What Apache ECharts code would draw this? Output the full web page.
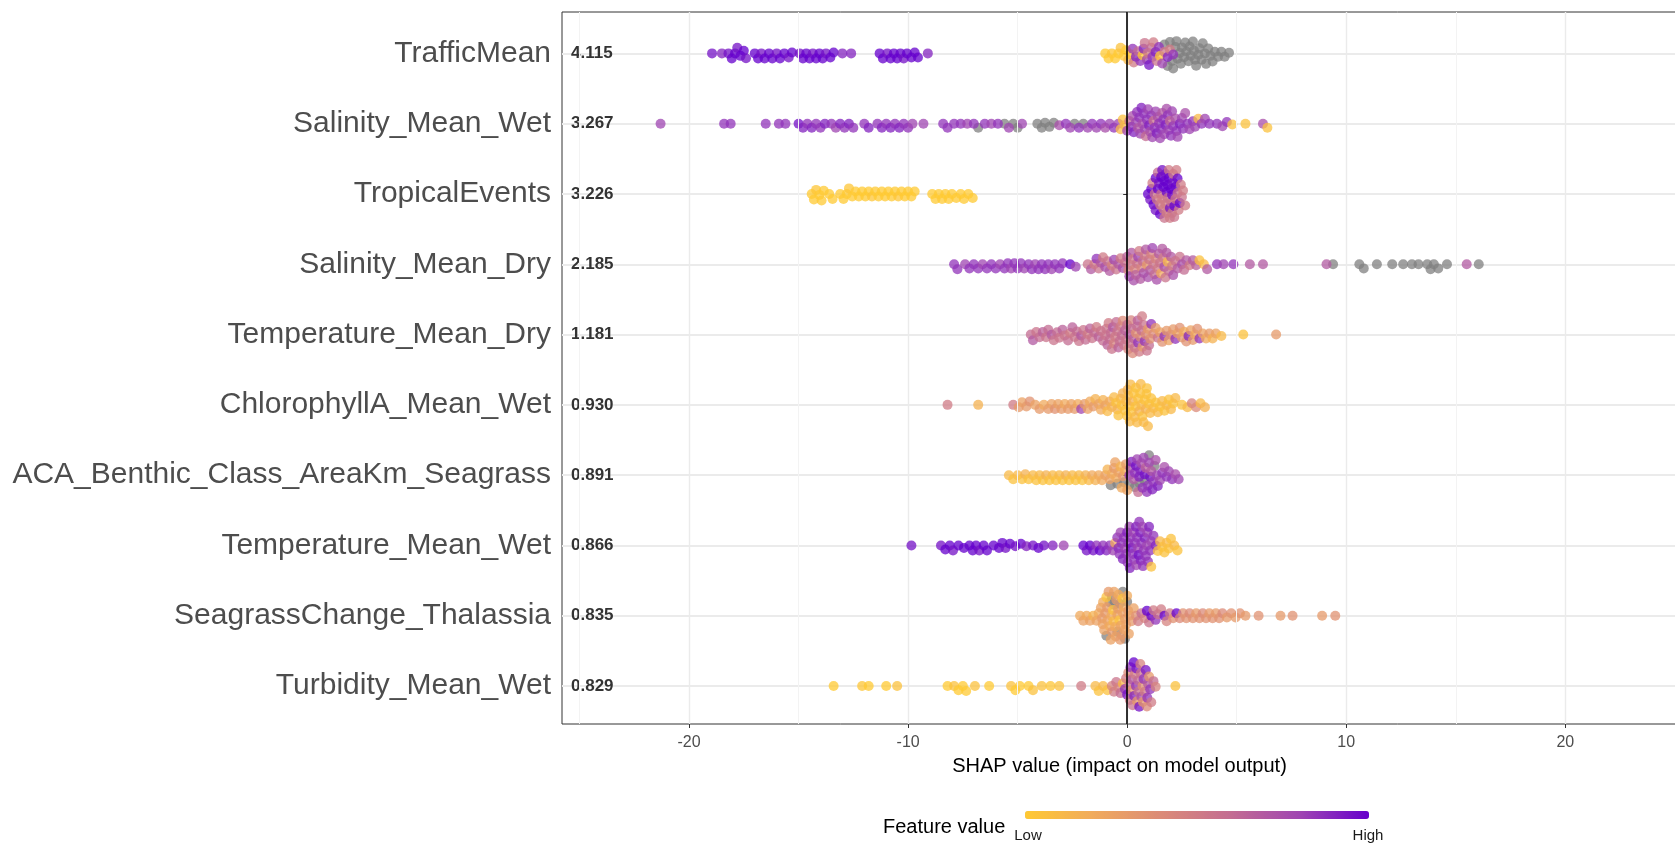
<!DOCTYPE html>
<html>
<head>
<meta charset="utf-8">
<title>SHAP summary</title>
<script src="https://cdn.jsdelivr.net/npm/echarts@6/dist/echarts.min.js"></script>
<style>
  html, body { margin: 0; padding: 0; background: #fff; }
  #chart { width: 1675px; height: 845px; }
</style>
</head>
<body>
<div id="chart"></div>
<script>
// features, top to bottom, with their mean |SHAP|
const features = ['TrafficMean', 'Salinity_Mean_Wet', 'TropicalEvents', 'Salinity_Mean_Dry', 'Temperature_Mean_Dry',
  'ChlorophyllA_Mean_Wet', 'ACA_Benthic_Class_AreaKm_Seagrass', 'Temperature_Mean_Wet', 'SeagrassChange_Thalassia', 'Turbidity_Mean_Wet']
const importance = ['4.115', '3.267', '3.226', '2.185', '1.181', '0.930', '0.891', '0.866', '0.835', '0.829']
const xTicks = [-20, -10, 0, 10, 20]
const xMinor = [-25, -15, -5, 5, 15, 25]

// [shap value, scaled feature value 0..1]; the *NA arrays hold shap values of points with missing feature value
const trafficMean = [[-18.95,0.95],[-18.5,0.9],[-18.2,0.95],[-18.05,1],[-17.9,1],[-17.8,0.95],[-17.65,1],[-17.5,1],[-17.4,0.95],[-17.0,1],[-16.85,1],[-16.7,0.95],[-16.55,1],[-16.35,1],[-16.2,1],[-16.0,0.95],[-15.85,1],[-15.65,1],[-15.45,0.95],[-15.3,1],[-14.95,0.95],[-14.8,1],[-14.65,1],[-14.5,1],[-14.35,0.95],[-14.2,1],[-14.05,1],[-13.9,1],[-13.75,0.95],[-13.55,1],[-13.4,1],[-13.0,0.9],[-12.6,0.9],[-11.3,1],[-11.15,1],[-10.95,0.95],[-10.8,1],[-10.65,1],[-10.5,1],[-10.35,1],[-10.2,0.95],[-10.05,1],[-9.85,1],[-9.7,1],[-9.55,1],[-9.1,0.9],
  [-1.0,0],[-0.85,0],[-0.7,0.02],[-0.55,0],[-0.4,0],[-0.3,0.05],[-0.15,0],[-0.05,0],[0.05,0.1],[0.15,0.02],[0.25,0.85],[0.3,0.5],[0.4,0.9],[0.5,0.6],[0.6,0.85],[0.7,0],[0.75,0.9],[0.8,0.55],[0.9,0.8],[0.95,0.5],[1.0,0.95],[1.1,0.6],[1.15,0.85],[1.2,0.5],[1.3,0.9],[1.35,0.55],[1.45,0.85],[1.5,0],[1.6,0.8],[1.7,0.5],[1.85,0.9],[1.95,0.5],[2.1,0.85]]
const trafficMeanNA = [1.7,1.85,1.95,2.05,2.1,2.2,2.25,2.3,2.4,2.45,2.5,2.6,2.65,2.7,2.8,2.85,2.9,3.0,3.05,3.1,3.15,3.25,3.3,3.4,3.45,3.55,3.6,3.7,3.8,3.9,4.0,4.15,4.3,4.45,4.65]

const salinityMeanWet = [[-21.3,0.8],[-18.4,0.85],[-18.1,0.85],[-16.5,0.85],[-15.9,0.85],[-15.6,0.85],[-15.0,0.95],[-14.8,0.9],[-14.6,0.85],[-14.4,0.9],[-14.2,0.85],[-14.0,0.85],[-13.8,0.9],[-13.5,0.85],[-13.3,0.8],[-13.1,0.9],[-12.9,0.85],[-12.7,0.9],[-12.5,0.85],[-12.0,0.85],[-11.8,0.9],[-11.4,0.85],[-11.2,0.9],[-11.0,0.85],[-10.8,0.9],[-10.6,0.85],[-10.4,0.9],[-10.2,0.85],[-10.0,0.85],[-9.8,0.8],[-9.3,0.8],[-8.4,0.85],[-8.2,0.85],[-7.9,0.85],[-7.6,0.85],[-7.3,0.8],[-7.0,0.85],[-6.5,0.85],[-6.2,0.8],[-5.9,0.85],[-5.4,0.8],[-4.8,0.8],[-3.1,0.75],[-2.8,0.85],[-2.6,0.8],[-2.2,0.85],[-1.8,0.8],[-1.6,0.85],[-1.4,0.8],[-1.2,0.85],[-1.0,0.75],[-0.8,0.8],[-0.6,0.85],[-0.4,0.8],[-0.3,0.1],[-0.2,0.05],[-0.1,0.1],
  [0.0,0.8],[0.1,0.6],[0.2,0.85],[0.25,0.75],[0.3,0.9],[0.4,0.8],[0.45,0.85],[0.5,0.7],[0.55,0.85],[0.6,0.8],[0.65,0.9],[0.7,0.75],[0.75,0.85],[0.8,0.8],[0.85,0.6],[0.9,0.85],[0.95,0.8],[1.0,0.9],[1.05,0.75],[1.1,0.85],[1.15,0.8],[1.2,0.55],[1.25,0.85],[1.3,0.8],[1.35,0.9],[1.4,0.75],[1.45,0.85],[1.5,0.8],[1.55,0.85],[1.6,0.7],[1.65,0.85],[1.7,0.8],[1.75,0.9],[1.8,0.75],[1.85,0.85],[1.9,0.8],[1.95,0.6],[2.0,0.85],[2.05,0.8],[2.1,0.85],[2.2,0.75],[2.25,0.85],[2.3,0.8],[2.4,0.9],[2.5,0.8],[2.55,0.85],[2.65,0.75],[2.75,0.85],[2.85,0.8],[3.0,0.85],[3.1,0.8],[3.25,0.1],[3.4,0.85],[3.55,0.8],[3.75,0.85],
  [4.1,0.85],[4.35,0.8],[4.55,0.85],[4.8,0.05],[5.4,0.05],[6.2,0.75],[6.4,0.05]]
const salinityMeanWetNA = [-6.8,-5.6,-5.2,-5.0,-4.1,-3.9,-3.75,-3.55,-3.35,-2.4,-2.0]

const tropicalEvents = [[-14.4,0],[-14.3,0],[-14.2,0.02],[-14.05,0],[-13.95,0],[-13.85,0],[-13.6,0],[-13.45,0],[-13.1,0],[-12.95,0],[-12.8,0],[-12.7,0.02],[-12.55,0],[-12.4,0],[-12.25,0],[-12.1,0],[-11.95,0],[-11.8,0],[-11.65,0.02],[-11.5,0],[-11.35,0],[-11.2,0],[-11.05,0],[-10.9,0],[-10.75,0],[-10.6,0],[-10.45,0.02],[-10.3,0],[-10.15,0],[-10.0,0],[-9.85,0],[-9.7,0],[-8.9,0],[-8.75,0],[-8.6,0],[-8.45,0],[-8.3,0],[-8.15,0],[-8.0,0],[-7.8,0],[-7.6,0],[-7.45,0],[-7.25,0],[-7.05,0],
  [0.95,1],[1.05,0.95],[1.1,1],[1.15,0.5],[1.2,1],[1.25,0.55],[1.3,1],[1.3,0.95],[1.35,0.5],[1.4,1],[1.4,0.6],[1.45,0.95],[1.5,0.5],[1.5,1],[1.55,0.55],[1.55,1],[1.6,0.5],[1.6,0.95],[1.65,1],[1.65,0.5],[1.7,0.55],[1.7,1],[1.75,0.5],[1.75,0.95],[1.8,1],[1.8,0.5],[1.85,0.55],[1.85,1],[1.9,0.5],[1.9,1],[1.95,0.95],[1.95,0.5],[2.0,1],[2.0,0.55],[2.05,0.5],[2.05,1],[2.1,0.95],[2.1,0.5],[2.15,1],[2.15,0.55],[2.2,0.5],[2.2,1],[2.25,0.5],[2.3,1],[2.3,0.55],[2.35,0.5],[2.4,1],[2.45,0.5],[2.5,0.55],[2.55,0.5],[2.65,0.5]]
const tropicalEventsNA = []

const salinityMeanDry = [[-7.9,0.85],[-7.75,0.85],[-7.4,0.8],[-7.2,0.85],[-7.0,0.85],[-6.8,0.85],[-6.6,0.8],[-6.4,0.85],[-6.2,0.85],[-6.0,0.85],[-5.8,0.8],[-5.6,0.85],[-5.45,0.85],[-5.3,0.8],[-5.15,0.85],[-5.0,0.85],[-4.85,0.85],[-4.7,0.8],[-4.5,0.85],[-4.35,0.85],[-4.2,0.8],[-4.05,0.85],[-3.9,0.85],[-3.75,0.85],[-3.6,0.85],[-3.45,0.8],[-3.3,0.85],[-3.1,0.85],[-2.95,0.85],[-2.6,1],[-2.35,0.8],
  [-1.8,0.55],[-1.65,0.7],[-1.5,0.5],[-1.4,0.85],[-1.3,0.55],[-1.2,0.7],[-1.1,0.5],[-1.0,0.75],[-0.9,0.55],[-0.8,0.7],[-0.7,0.45],[-0.6,0.8],[-0.5,0.55],[-0.4,0.7],[-0.3,0.5],[-0.2,0.75],[-0.1,0.55],[0.0,0.65],[0.05,0.45],[0.1,0.8],[0.15,0.55],[0.2,0.7],[0.25,0.5],[0.3,0.75],[0.35,0.45],[0.4,0.65],[0.45,0.55],[0.5,0.8],[0.55,0.5],[0.6,0.7],[0.65,0.45],[0.7,0.6],[0.75,0.75],[0.8,0.5],[0.85,0.7],[0.9,0.3],[0.95,0.75],[1.0,0.55],[1.05,0.7],[1.1,0.45],[1.15,0.8],[1.2,0.55],[1.25,0.6],[1.3,0.45],[1.35,0.75],[1.4,0.5],[1.45,0.7],[1.5,0.55],[1.55,0.2],[1.6,0.7],[1.65,0.5],[1.7,0.75],[1.75,0.55],[1.8,0.7],[1.85,0.1],[1.9,0.6],[2.0,0.7],[2.05,0.5],[2.1,0.75],[2.2,0.55],[2.3,0.7],[2.4,0.55],[2.5,0.75],[2.6,0.6],[2.7,0.7],[2.85,0.5],[3.0,0.7],[3.15,0.65],
  [3.3,0.05],[3.5,0.1],[3.65,0.7],[4.1,0.85],[4.4,0.8],[4.85,0.85],[5.6,0.7],[6.2,0.7],[9.1,0.7],[15.5,0.7]]
const salinityMeanDryNA = [9.4,10.6,10.8,11.4,12.1,12.6,13.0,13.3,13.7,13.85,14.0,14.2,14.6,16.05]

const temperatureMeanDry = [[-4.4,0.6],[-4.3,0.7],[-4.15,0.55],[-4.0,0.6],[-3.85,0.65],[-3.7,0.55],[-3.6,0.6],[-3.45,0.7],[-3.35,0.55],[-3.2,0.6],[-3.1,0.55],[-2.95,0.65],[-2.85,0.55],[-2.7,0.6],[-2.6,0.5],[-2.5,0.65],[-2.4,0.55],[-2.3,0.6],[-2.2,0.55],[-2.1,0.7],[-2.0,0.55],[-1.9,0.6],[-1.8,0.5],[-1.7,0.65],[-1.6,0.55],[-1.5,0.6],[-1.4,0.5],[-1.3,0.65],[-1.2,0.55],[-1.1,0.6],
  [-1.0,0.55],[-0.95,0.55],[-0.9,0.65],[-0.85,0.5],[-0.8,0.6],[-0.75,0.6],[-0.7,0.55],[-0.65,0.7],[-0.6,0.45],[-0.55,0.5],[-0.5,0.6],[-0.45,0.55],[-0.4,0.65],[-0.35,0.6],[-0.3,0.5],[-0.25,0.6],[-0.2,0.4],[-0.15,0.55],[-0.1,0.65],[-0.05,0.55],[0.0,0.6],[0.05,0.45],[0.1,0.7],[0.15,0.55],[0.18,0.45],[0.2,0.6],[0.25,0.4],[0.3,0.65],[0.35,0.55],[0.4,0.35],[0.45,0.6],[0.48,0.65],[0.5,0.85],[0.55,0.5],[0.6,0.4],[0.65,0.6],[0.68,0.5],[0.7,0.3],[0.75,0.55],[0.8,0.85],[0.85,0.4],[0.9,0.55],[0.95,0.3],[1.0,0.6],[1.05,0.35],[1.1,0.85],[1.2,0.4],[1.3,0.3],[1.4,0.55],[1.5,0.25],
  [1.6,0.35],[1.7,0.85],[1.8,0.3],[1.9,0.25],[2.0,0.4],[2.1,0.3],[2.2,0.85],[2.3,0.25],[2.4,0.35],[2.5,0.3],[2.6,0.2],[2.7,0.35],[2.8,0.9],[2.9,0.25],[3.0,0.3],[3.1,0.2],[3.2,0.35],[3.3,0.85],[3.45,0.25],[3.6,0.2],[3.75,0.3],[3.9,0.15],[4.05,0.25],[4.3,0.1],[5.3,0.05],[6.8,0.3]]
const temperatureMeanDryNA = []

const chlorophyllAMeanWet = [[-8.2,0.5],[-6.8,0.15],[-5.2,0.5],[-4.95,0.3],[-4.8,0.25],[-4.6,0.3],[-4.45,0.35],[-4.2,0.25],[-4.0,0.3],[-3.8,0.2],[-3.6,0.3],[-3.45,0.25],[-3.3,0.35],[-3.15,0.25],[-3.0,0.3],[-2.85,0.2],[-2.7,0.3],[-2.55,0.25],[-2.4,0.3],[-2.25,0.2],[-2.1,0.8],[-1.95,0.3],[-1.8,0.25],[-1.7,0.2],[-1.55,0.3],[-1.45,0.15],[-1.3,0.25],[-1.2,0.2],[-1.1,0.15],[-1.0,0.25],[-0.9,0.1],[-0.8,0.2],[-0.7,0.15],
  [-0.6,0.1],[-0.5,0.05],[-0.45,0.15],[-0.4,0.05],[-0.3,0.1],[-0.25,0.05],[-0.2,0.15],[-0.1,0.05],[-0.05,0.1],[0.0,0.05],[0.02,0.15],[0.05,0.1],[0.1,0.05],[0.12,0.1],[0.15,0.1],[0.2,0.05],[0.25,0.15],[0.3,0.05],[0.35,0.1],[0.38,0.05],[0.4,0.05],[0.45,0.1],[0.5,0.05],[0.55,0.15],[0.6,0.05],[0.62,0.1],[0.65,0.1],[0.7,0.05],[0.75,0.1],[0.8,0.05],[0.85,0.15],[0.88,0.05],[0.9,0.05],[0.95,0.1],[1.0,0.05],[1.05,0.1],[1.1,0.05],[1.2,0.1],[1.3,0.05],[1.4,0.1],
  [1.5,0.05],[1.6,0.1],[1.7,0.05],[1.8,0.1],[1.9,0.05],[2.0,0.1],[2.1,0.05],[2.2,0.1],[2.5,0.05],[2.75,0.1],[2.95,0.45],[3.15,0.4],[3.35,0.1],[3.55,0.15]]
const chlorophyllAMeanWetNA = []

const acaBenthicSeagrass = [[-5.4,0.1],[-5.2,0.05],[-5.0,0.1],[-4.8,0.05],[-4.65,0.15],[-4.5,0.05],[-4.3,0.1],[-4.15,0.05],[-4.0,0.1],[-3.85,0.05],[-3.7,0.15],[-3.55,0.05],[-3.4,0.1],[-3.25,0.05],[-3.1,0.1],[-2.95,0.05],[-2.8,0.15],[-2.65,0.05],[-2.5,0.1],[-2.35,0.05],[-2.2,0.1],[-2.05,0.05],[-1.9,0.15],[-1.75,0.1],[-1.6,0.2],[-1.45,0.15],[-1.3,0.2],
  [-1.15,0.2],[-1.0,0.25],[-0.9,0.15],[-0.8,0.25],[-0.7,0.2],[-0.6,0.3],[-0.55,0.25],[-0.5,0.2],[-0.4,0.25],[-0.3,0.15],[-0.25,0.2],[-0.2,0.3],[-0.1,0.2],[-0.05,0.3],[0.0,0.25],
  [0.1,0.85],[0.15,0.75],[0.2,0.9],[0.3,0.7],[0.35,0.85],[0.4,0.95],[0.45,0.8],[0.5,0.6],[0.55,0.9],[0.6,0.9],[0.65,0.75],[0.7,0.85],[0.75,0.8],[0.8,0.95],[0.85,0.65],[0.9,0.85],[0.95,0.85],[1.0,0.8],[1.05,0.95],[1.1,0.7],[1.15,0.9],[1.2,0.85],[1.3,0.75],[1.35,0.8],[1.4,0.9],[1.5,0.8],[1.6,0.85],[1.7,0.75],[1.8,0.85],[1.9,0.8],[2.05,0.85],[2.2,0.75],[2.35,0.8]]
const acaBenthicSeagrassNA = [-0.75,-0.45,-0.15,0.1,0.35,0.55,0.8,1.0,1.25]

const temperatureMeanWet = [[-9.85,0.95],[-8.5,0.95],[-8.3,1],[-8.1,1],[-7.95,0.95],[-7.7,1],[-7.45,1],[-7.2,1],[-7.05,1],[-6.9,1],[-6.75,0.95],[-6.55,1],[-6.4,1],[-6.1,1],[-5.85,1],[-5.7,1],[-5.55,0.95],[-5.35,1],[-5.1,0.95],[-4.85,1],[-4.6,0.9],[-4.3,0.95],[-4.05,1],[-3.8,0.95],[-3.4,0.9],[-2.9,0.8],[-2.0,1],[-1.85,0.95],[-1.7,1],[-1.55,0.95],[-1.4,0.85],[-1.25,1],[-1.1,0.85],[-0.95,0.9],[-0.8,0.85],[-0.65,0.8],[-0.55,0.2],
  [-0.45,0.85],[-0.4,0.9],[-0.35,0.85],[-0.3,0.8],[-0.25,0.85],[-0.2,0.9],[-0.15,0.85],[-0.1,0.8],[-0.05,0.85],[0.0,0.9],[0.02,0.85],[0.05,0.85],[0.1,0.8],[0.12,0.9],[0.15,0.85],[0.2,0.95],[0.25,0.85],[0.3,0.8],[0.32,0.85],[0.35,0.85],[0.4,0.9],[0.42,0.8],[0.45,0.85],[0.5,0.8],[0.52,0.95],[0.55,0.85],[0.6,0.9],[0.62,0.9],[0.65,0.85],[0.7,0.8],[0.72,0.85],[0.75,0.85],[0.8,0.9],[0.85,0.85],[0.9,0.8],[0.92,0.8],[0.95,0.85],[1.0,0.9],[1.05,0.85],[1.1,0.8],[1.2,0.85],[1.3,0.9],
  [1.1,0.05],[1.4,0.05],[1.5,0.1],[1.6,0.05],[1.7,0.05],[1.8,0.1],[1.9,0.05],[2.0,0.05],[2.15,0.1],[2.3,0.05]]
const temperatureMeanWetNA = []

const seagrassChangeThalassia = [[-2.15,0.2],[-2.0,0.25],[-1.85,0.2],[-1.7,0.25],[-1.55,0.15],[-1.4,0.25],[-1.3,0.2],
  [-1.2,0.25],[-1.15,0.3],[-1.12,0.25],[-1.1,0.2],[-1.05,0.25],[-1.0,0.3],[-0.95,0.05],[-0.92,0.3],[-0.9,0.25],[-0.85,0.3],[-0.8,0.2],[-0.75,0.25],[-0.72,0.2],[-0.7,0.3],[-0.65,0.05],[-0.62,0.1],[-0.6,0.25],[-0.55,0.2],[-0.52,0.25],[-0.5,0.3],[-0.45,0.25],[-0.42,0.3],[-0.4,0.2],[-0.35,0.05],[-0.32,0.3],[-0.3,0.25],[-0.25,0.3],[-0.22,0.05],[-0.2,0.25],[-0.15,0.2],[-0.12,0.25],[-0.1,0.3],[-0.05,0.25],[0.0,0.2],[0.05,0.3],[0.08,0.25],[0.1,0.25],[0.2,0.3],[0.3,0.25],[0.4,0.35],
  [0.5,0.5],[0.65,0.6],[0.8,0.45],[0.9,1],[1.0,0.55],[1.1,1],[1.2,0.5],[1.3,0.85],[1.4,0.55],[1.55,0.5],[1.7,1],[1.8,0.45],[1.95,0.5],[2.1,0.35],[2.25,1],[2.4,0.4],[2.55,0.35],
  [2.7,0.35],[2.85,0.4],[3.0,0.35],[3.15,0.3],[3.3,0.35],[3.45,0.4],[3.6,0.35],[3.75,0.3],[3.9,0.35],[4.05,0.3],[4.2,0.35],[4.35,0.4],[4.55,0.3],[4.75,0.35],[4.95,0.3],[5.15,0.35],[5.4,0.3],[6.0,0.35],[7.0,0.3],[7.55,0.35],[8.9,0.3],[9.5,0.35]]
const seagrassChangeThalassiaNA = [-0.95,-0.8,-0.7,-0.6,-0.45,-0.35,-0.2,-0.1,0.0]

const turbidityMeanWet = [[-13.4,0],[-12.1,0.02],[-11.8,0],[-11.0,0],[-10.5,0.05],[-8.2,0],[-7.9,0.05],[-7.7,0],[-7.5,0],[-7.35,0],[-6.95,0.05],[-6.3,0],[-5.3,0.05],[-5.1,0],[-4.9,0],[-4.5,0],[-4.3,0.05],[-3.9,0.05],[-3.5,0.02],[-3.1,0.05],[-2.1,0.5],[-1.45,0.1],[-1.3,0.05],[-1.1,0.1],[-0.9,0.05],[-0.7,0.45],[-0.6,0.5],
  [-0.5,0.55],[-0.4,0.45],[-0.3,0.6],[-0.2,0.1],[-0.1,0.85],[-0.05,0.5],[0.0,0.95],[0.05,0.4],[0.1,0.6],[0.12,0.5],[0.15,0.85],[0.2,0.3],[0.22,0.7],[0.25,0.55],[0.3,1],[0.32,0.9],[0.35,0.5],[0.4,0.85],[0.42,0.95],[0.45,0.3],[0.5,0.6],[0.52,0.55],[0.55,0.95],[0.6,0.45],[0.62,0.55],[0.65,0.75],[0.7,0.35],[0.72,0.3],[0.75,0.85],[0.8,0.5],[0.85,0.95],[0.9,0.4],[0.92,0.85],[0.95,0.7],[1.0,0.3],[1.05,0.85],[1.1,0.5],[1.2,0.6],[1.3,0.45],[2.2,0.05]]
const turbidityMeanWetNA = []

const rows = [trafficMean, salinityMeanWet, tropicalEvents, salinityMeanDry, temperatureMeanDry,
  chlorophyllAMeanWet, acaBenthicSeagrass, temperatureMeanWet, seagrassChangeThalassia, turbidityMeanWet]
const rowsNA = [trafficMeanNA, salinityMeanWetNA, tropicalEventsNA, salinityMeanDryNA, temperatureMeanDryNA,
  chlorophyllAMeanWetNA, acaBenthicSeagrassNA, temperatureMeanWetNA, seagrassChangeThalassiaNA, turbidityMeanWetNA]

const lowHigh = ['#FFC933', '#F0AA5C', '#DB8A78', '#C36C92', '#9F45B2', '#6600CC']
const font = 'Liberation Sans, Arial, sans-serif'
const rowTicks = [1, 2, 3, 4, 5, 6, 7, 8, 9, 10]

const myChart = echarts.init(document.getElementById('chart'))
myChart.setOption({
  animation: false,
  backgroundColor: '#fff',
  grid: {
    left: 562, top: 12, right: -2, bottom: 121,
    show: true, borderColor: '#333', borderWidth: 1, backgroundColor: 'transparent',
    outerBoundsMode: 'none', containLabel: false
  },
  xAxis: {
    type: 'value', min: -25.8, max: 25.1,
    name: 'SHAP value (impact on model output)', nameLocation: 'middle', nameGap: 32,
    nameTextStyle: { fontFamily: font, fontSize: 20, color: '#000' },
    axisLine: { show: false },
    axisTick: { show: true, length: 4, customValues: xTicks, lineStyle: { color: '#333' } },
    axisLabel: { customValues: xTicks, fontFamily: font, fontSize: 16, color: '#4d4d4d', margin: 11 },
    splitLine: { show: true, lineStyle: { color: '#ebebeb', width: 1.4 } }
  },
  yAxis: [{
    type: 'value', inverse: true, min: 0.411, max: 10.54,
    axisLine: { show: false },
    axisTick: { show: true, length: 4, customValues: rowTicks, lineStyle: { color: '#333' } },
    axisLabel: { customValues: rowTicks, fontFamily: font, fontSize: 30, color: '#4d4d4d', margin: 11,
      formatter: v => features[Math.round(v) - 1] },
    splitLine: { show: true, lineStyle: { color: '#ebebeb', width: 2 } }
  }, {
    type: 'value', inverse: true, min: 0.411, max: 10.54, position: 'left',
    axisLine: { show: false }, axisTick: { show: false }, splitLine: { show: false },
    axisLabel: { inside: true, customValues: rowTicks, fontFamily: font, fontSize: 17,
      fontWeight: 'bold', color: '#333', margin: 9, formatter: v => importance[Math.round(v) - 1] }
  }],
  visualMap: {
    type: 'continuous', seriesIndex: 1, dimension: 2, min: 0, max: 1,
    orient: 'horizontal', left: 1010, top: 796, itemWidth: 8, itemHeight: 344,
    calculable: false, text: null, inRange: { color: lowHigh }
  },
  graphic: [
    { type: 'text', left: 883, top: 817, style: { text: 'Feature value', font: '20px ' + font, fill: '#000' } },
    { type: 'text', x: 1028, y: 836, style: { text: 'Low', font: '15px ' + font, fill: '#1a1a1a', textAlign: 'center', textVerticalAlign: 'middle' } },
    { type: 'text', x: 1368, y: 836, style: { text: 'High', font: '15px ' + font, fill: '#1a1a1a', textAlign: 'center', textVerticalAlign: 'middle' } }
  ],
  series: [
    { name: 'NA', type: 'scatter', data: [], symbolSize: 10, itemStyle: { color: '#808080', opacity: 0.75 } },
    { name: 'value', type: 'scatter', data: [], symbolSize: 10, itemStyle: { opacity: 0.75 } },
    { name: 'minor', type: 'scatter', data: [], z: 1, silent: true,
      markLine: { silent: true, symbol: 'none', label: { show: false },
        lineStyle: { color: '#f3f3f3', width: 1, type: 'solid' }, data: xMinor.map(v => ({ xAxis: v })) } },
    { name: 'zero', type: 'scatter', data: [], z: 10, silent: true,
      markLine: { silent: true, symbol: 'none', label: { show: false },
        lineStyle: { color: '#000', width: 1.6, type: 'solid' }, data: [{ xAxis: 0 }] } }
  ]
})

// beeswarm: pixel sizes taken from the axes
const pxX = myChart.convertToPixel({ xAxisIndex: 0 }, 1) - myChart.convertToPixel({ xAxisIndex: 0 }, 0)
const pxY = myChart.convertToPixel({ yAxisIndex: 0 }, 2) - myChart.convertToPixel({ yAxisIndex: 0 }, 1)
const gap = 6
const cap = 24

function swarm(xs) {
  const order = xs.map((x, i) => i).sort((a, b) => xs[a] - xs[b])
  const placed = []
  const ys = new Array(xs.length)
  order.forEach(i => {
    const x = xs[i] * pxX
    const near = placed.filter(p => Math.abs(p.x - x) < gap)
    const cands = [0]
    near.forEach(p => {
      const dy = Math.sqrt(gap * gap - (p.x - x) * (p.x - x))
      cands.push(p.y + dy, p.y - dy)
    })
    cands.sort((a, b) => Math.abs(a) - Math.abs(b))
    let y = cands.find(c => near.every(p => (p.x - x) * (p.x - x) + (p.y - c) * (p.y - c) >= gap * gap - 0.01))
    if (y === undefined || Math.abs(y) > cap) {
      // no free slot inside the band: take the least crowded spot
      let best = -Infinity
      for (let c = -cap; c <= cap; c += 1) {
        const dmin = Math.min(...near.map(p => (p.x - x) * (p.x - x) + (p.y - c) * (p.y - c)))
        if (dmin > best + 1e-6) { best = dmin; y = c }
      }
    }
    ys[i] = y
    placed.push({ x, y })
  })
  return ys
}

const valuePts = []
const naPts = []
rows.forEach((row, r) => {
  const xs = row.map(d => d[0]).concat(rowsNA[r])
  const ys = swarm(xs)
  row.forEach((d, i) => valuePts.push([d[0], r + 1 + ys[i] / pxY, d[1]]))
  rowsNA[r].forEach((x, i) => naPts.push([x, r + 1 + ys[row.length + i] / pxY]))
})

myChart.setOption({ series: [{ data: naPts }, { data: valuePts }] })
</script>
</body>
</html>
